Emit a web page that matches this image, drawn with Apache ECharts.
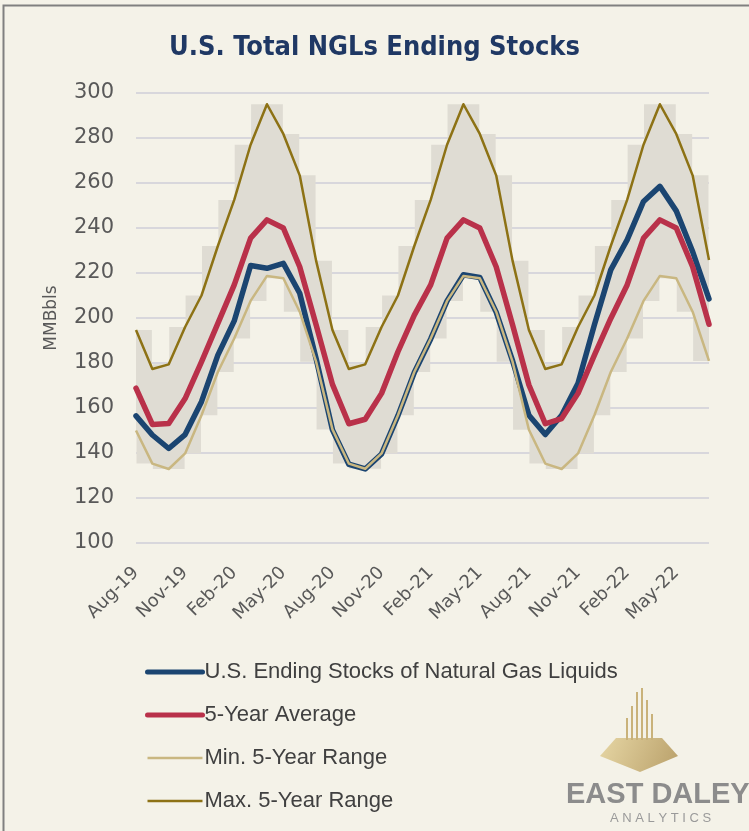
<!DOCTYPE html>
<html>
<head>
  <meta charset="UTF-8">
  <title>U.S. Total NGLs Ending Stocks</title>
  <script src="https://cdn.jsdelivr.net/npm/echarts@6/dist/echarts.min.js"></script>
</head>
<style type="text/css">
    html,body {padding: 0; margin: 0; background: #f4f2e8;}
    #chart {width: 749px; height: 831px;}
</style>
<body>
  <div id="chart"></div>
  <script type="text/javascript">

    // monthly categories, a label shown every 3rd month
    var months = ['Aug-19','Sep-19','Oct-19','Nov-19','Dec-19','Jan-20','Feb-20','Mar-20','Apr-20','May-20','Jun-20','Jul-20',
                  'Aug-20','Sep-20','Oct-20','Nov-20','Dec-20','Jan-21','Feb-21','Mar-21','Apr-21','May-21','Jun-21','Jul-21',
                  'Aug-21','Sep-21','Oct-21','Nov-21','Dec-21','Jan-22','Feb-22','Mar-22','Apr-22','May-22','Jun-22','Jul-22'];

    var stocks = [156.5, 148, 142, 148.2, 162.8, 183.5, 198.7, 223.3, 222.1, 224.3, 211, 182,
                  150.3, 135, 132.9, 139.6, 156.6, 175.8, 190.7, 207.6, 219.2, 218, 202.6, 181,
                  156.8, 148.2, 156.8, 171, 197, 221.4, 234.7, 251.8, 258.5, 247.6, 229.5, 208.5];

    var avg5 = [168.8, 152.7, 153.1, 164.2, 180.5, 197.6, 214.7, 235.5, 243.6, 240, 222.8, 197,
                170.5, 153, 155, 166.5, 185, 201.3, 214.7, 235.5, 243.6, 240, 222.8, 197,
                170.2, 153, 155.3, 166.5, 183.5, 199.8, 214.7, 235.5, 243.6, 240, 222.8, 197.2];

    var min5 = [150, 135.3, 132.9, 139.8, 156.8, 176, 190.9, 207.6, 218.7, 217.7, 202.8, 180.6,
                150.5, 135.3, 133, 139.8, 156.8, 176, 190.9, 207.6, 218.7, 217.7, 202.8, 180.6,
                150.3, 135.3, 132.9, 139.8, 156.8, 176, 190.9, 207.6, 218.7, 217.7, 202.8, 180.9];

    var max5 = [194.7, 177.3, 179.4, 196, 210, 232, 252.5, 277, 295, 281.8, 263.4, 225.5,
                194.7, 177.3, 179.4, 196, 210, 232, 252.5, 277, 295, 281.8, 263.4, 225.5,
                194.7, 177.3, 179.4, 196, 210, 232, 252.5, 277, 295, 281.8, 263.4, 225.8];

    var yTicks = {min: 100, max: 300, step: 20};

    // stepped range blocks sit between two months
    var barLow = [], barSpan = [], bandSpan = [];
    for (var i = 0; i < months.length - 1; i++) {
        var lo = Math.min(min5[i], min5[i + 1]);
        var hi = Math.max(max5[i], max5[i + 1]);
        barLow.push(lo);
        barSpan.push(hi - lo);
    }
    for (var j = 0; j < months.length; j++) {
        bandSpan.push(max5[j] - min5[j]);
    }

    var grey = '#dfdcd3';
    var txt = '#595959';

    var names = ['U.S. Ending Stocks of Natural Gas Liquids', '5-Year Average', 'Min. 5-Year Range', 'Max. 5-Year Range'];

    var option = {
        backgroundColor: '#f4f2e8',
        animation: false,
        title: {
            text: 'U.S. Total NGLs Ending Stocks',
            left: 'center',
            top: 29,
            textStyle: {color: '#1f3864', fontSize: 27, fontWeight: 'bold', fontFamily: 'Liberation Sans Narrow, DejaVu Sans Condensed, sans-serif'}
        },
        grid: {left: 136, right: 40, top: 93, bottom: 288},
        legend: {
            data: [
                {name: names[0], lineStyle: {width: 5}},
                {name: names[1], lineStyle: {width: 5}},
                {name: names[2], lineStyle: {width: 2.5}},
                {name: names[3], lineStyle: {width: 2.5}}
            ],
            orient: 'vertical',
            left: 140,
            top: 656,
            itemWidth: 55,
            itemHeight: 14,
            itemGap: 21,
            itemStyle: {opacity: 0},
            textStyle: {color: '#404040', fontSize: 22, fontFamily: 'Liberation Sans, sans-serif', padding: [0, 0, 0, -3]}
        },
        xAxis: [{
            type: 'category',
            data: months,
            boundaryGap: false,
            axisLine: {show: false},
            axisTick: {show: false},
            axisLabel: {interval: 2, rotate: 45, margin: 27, color: txt, fontSize: 18, fontFamily: 'DejaVu Sans, sans-serif'}
        }, {
            type: 'category',
            data: months.slice(1),
            boundaryGap: true,
            show: false
        }],
        yAxis: {
            type: 'value',
            min: yTicks.min,
            max: yTicks.max,
            interval: yTicks.step,
            name: 'MMBbls',
            nameLocation: 'middle',
            nameGap: 76,
            nameTextStyle: {color: txt, fontSize: 17, fontFamily: 'DejaVu Sans, sans-serif'},
            axisLine: {show: false},
            axisTick: {show: false},
            axisLabel: {margin: 22, color: txt, fontSize: 21, fontFamily: 'DejaVu Sans, sans-serif'},
            splitLine: {lineStyle: {color: '#d8d7dc', width: 2}}
        },
        series: [
            {type: 'bar', xAxisIndex: 1, stack: 'blocks', silent: true, barWidth: '94%',
             itemStyle: {color: 'transparent'}, data: barLow},
            {type: 'bar', xAxisIndex: 1, stack: 'blocks', silent: true, barWidth: '94%',
             itemStyle: {color: grey}, data: barSpan},
            {type: 'line', stack: 'band', symbol: 'none', silent: true,
             lineStyle: {opacity: 0}, data: min5},
            {type: 'line', stack: 'band', symbol: 'none', silent: true,
             lineStyle: {opacity: 0}, areaStyle: {color: grey, opacity: 1}, data: bandSpan},
            {name: names[0], type: 'line', symbol: 'none', color: '#1b4571',
             lineStyle: {width: 5.5, join: 'round', cap: 'round'}, data: stocks},
            {name: names[1], type: 'line', symbol: 'none', color: '#b9314a',
             lineStyle: {width: 5.5, join: 'round', cap: 'round'}, data: avg5},
            {name: names[2], type: 'line', symbol: 'none', color: '#c9b781',
             lineStyle: {width: 2.5, join: 'round'}, data: min5},
            {name: names[3], type: 'line', symbol: 'none', color: '#8d7215',
             lineStyle: {width: 2.5, join: 'round'}, data: max5}
        ],
        graphic: [
            // frame round the picture
            {type: 'rect', left: 1, top: 3, shape: {width: 800, height: 900}, silent: true,
             style: {fill: 'none', stroke: '#808080', lineWidth: 2}},
            // East Daley logo
            {type: 'group', left: 566, top: 688, silent: true, children: [
                {type: 'polygon', shape: {points: [[50, 50], [96, 50], [112, 68], [74, 84], [34, 68]]},
                 style: {fill: {type: 'linear', x: 0, y: 0, x2: 1, y2: 1, colorStops: [{offset: 0, color: '#e6d6a4'}, {offset: 1, color: '#b9a06a'}]}}},
                {type: 'rect', shape: {x: 60, y: 30, width: 2, height: 22}, style: {fill: '#c9b27a'}},
                {type: 'rect', shape: {x: 65, y: 18, width: 2, height: 34}, style: {fill: '#c9b27a'}},
                {type: 'rect', shape: {x: 70, y: 4, width: 2, height: 48}, style: {fill: '#c9b27a'}},
                {type: 'rect', shape: {x: 75, y: 0, width: 2, height: 52}, style: {fill: '#c9b27a'}},
                {type: 'rect', shape: {x: 80, y: 12, width: 2, height: 40}, style: {fill: '#c9b27a'}},
                {type: 'rect', shape: {x: 85, y: 26, width: 2, height: 26}, style: {fill: '#c9b27a'}},
                {type: 'text', x: 0, y: 92, style: {text: 'EAST DALEY', fill: '#8c8c8c', font: 'bold 29px Liberation Sans Narrow, sans-serif'}},
                {type: 'text', x: 44, y: 124, style: {text: 'A N A L Y T I C S', fill: '#9a9a9a', font: '13px Liberation Sans, sans-serif'}}
            ]}
        ]
    };

    var myChart = echarts.init(document.getElementById('chart'));
    myChart.setOption(option, true);

  </script>
</body>
</html>
